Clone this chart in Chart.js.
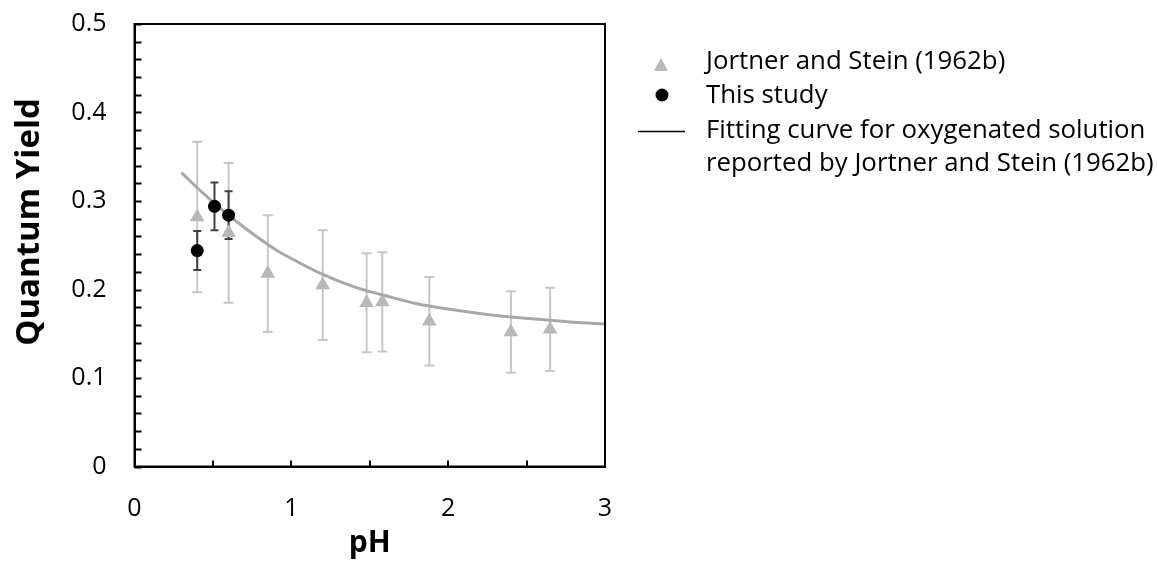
<!DOCTYPE html>
<html>
<head>
<meta charset="utf-8">
<script src="https://cdn.jsdelivr.net/npm/chart.js@4.4.1/dist/chart.umd.min.js"></script>
<style>
  html, body { margin: 0; padding: 0; background: #ffffff; }
  #wrap { position: relative; width: 1158px; height: 563px; }
</style>
</head>
<body>
<div id="wrap"><canvas id="c" width="1158" height="563"></canvas></div>
<script>
// ---- Data ----
const jsPH      = [0.40, 0.60, 0.85, 1.20, 1.48, 1.58, 1.88, 2.40, 2.65];
const jsYield   = [0.282, 0.264, 0.218, 0.205, 0.185, 0.186, 0.164, 0.152, 0.155];
const jsErr     = [0.085, 0.079, 0.066, 0.062, 0.056, 0.056, 0.050, 0.046, 0.047];

const studyPH    = [0.40, 0.51, 0.60];
const studyYield = [0.244, 0.294, 0.284];
const studyErr   = [0.022, 0.027, 0.027];

const fitPH    = [0.30, 0.40, 0.50, 0.60, 0.70, 0.80, 0.90, 1.00, 1.20, 1.40, 1.60, 1.80, 2.00, 2.20, 2.40, 2.60, 2.80, 3.00];
const fitYield = [0.332, 0.315, 0.299, 0.284, 0.270, 0.257, 0.245, 0.235, 0.217, 0.203, 0.193, 0.184, 0.178, 0.173, 0.169, 0.166, 0.163, 0.161];

const xTickLabels = ['0', '1', '2', '3'];
const yTickLabels = ['0', '0.1', '0.2', '0.3', '0.4', '0.5'];

const legendLabels = [
  ['Jortner and Stein (1962b)'],
  ['This study'],
  ['Fitting curve for oxygenated solution', 'reported by Jortner and Stein (1962b)']
];
const yTitle = 'Quantum Yield';
const xTitle = 'pH';

// ---- Styles ----
const FONT = '"Open Sans", "DejaVu Sans", sans-serif';
const GRAY_MARK = '#b8b8b8';
const GRAY_ERR = '#c6c6c6';
const GRAY_FIT = '#a8a8a8';
const DARK_ERR = '#404040';

const toPts = (xs, ys) => xs.map((x, i) => ({ x: x, y: ys[i] }));

const errorBars = {
  id: 'errorBars',
  beforeDatasetsDraw(chart) {
    const ctx = chart.ctx, xs = chart.scales.x, ys = chart.scales.y;
    const draw = (px, py, pe, color, cap) => {
      ctx.save();
      ctx.strokeStyle = color; ctx.lineWidth = 2;
      px.forEach((p, i) => {
        const X = xs.getPixelForValue(p);
        const T = ys.getPixelForValue(py[i] + pe[i]);
        const B = ys.getPixelForValue(py[i] - pe[i]);
        ctx.beginPath();
        ctx.moveTo(X, T); ctx.lineTo(X, B);
        ctx.moveTo(X - cap, T); ctx.lineTo(X + cap, T);
        ctx.moveTo(X - cap, B); ctx.lineTo(X + cap, B);
        ctx.stroke();
      });
      ctx.restore();
    };
    draw(jsPH, jsYield, jsErr, GRAY_ERR, 5);
    draw(studyPH, studyYield, studyErr, DARK_ERR, 4);
  }
};

const frameAndTicks = {
  id: 'frameAndTicks',
  afterDraw(chart) {
    const ctx = chart.ctx, a = chart.chartArea, xs = chart.scales.x, ys = chart.scales.y;
    ctx.save();
    ctx.strokeStyle = '#000'; ctx.lineWidth = 2;
    ctx.strokeRect(a.left, a.top, a.right - a.left, a.bottom - a.top);
    ctx.beginPath();
    for (let v = 0; v <= 0.5001; v += 0.02) {
      const Y = Math.round(ys.getPixelForValue(v)) + 0.5;
      ctx.moveTo(a.left, Y); ctx.lineTo(a.left + 7, Y);
    }
    for (let v = 0; v <= 3.0001; v += 0.5) {
      const X = Math.round(xs.getPixelForValue(v));
      ctx.moveTo(X, a.bottom); ctx.lineTo(X, a.bottom - 6);
    }
    ctx.stroke();
    ctx.restore();

    // y-axis title
    ctx.save();
    ctx.translate(30, 222);
    ctx.rotate(-Math.PI / 2);
    ctx.fillStyle = '#000';
    ctx.font = 'bold 33px ' + FONT;
    ctx.textAlign = 'center'; ctx.textBaseline = 'middle';
    ctx.fillText(yTitle, 0, 0);
    ctx.restore();

    // legend
    ctx.save();
    const tx = 706;
    ctx.font = '25.8px ' + FONT;
    ctx.textAlign = 'left'; ctx.textBaseline = 'alphabetic';
    ctx.fillStyle = GRAY_MARK;
    ctx.beginPath();
    ctx.moveTo(661, 58); ctx.lineTo(668, 71); ctx.lineTo(654, 71); ctx.closePath(); ctx.fill();
    ctx.fillStyle = '#000';
    ctx.beginPath(); ctx.arc(662, 95, 6.5, 0, Math.PI * 2); ctx.fill();
    ctx.strokeStyle = '#000'; ctx.lineWidth = 1.5;
    ctx.beginPath(); ctx.moveTo(638, 131.5); ctx.lineTo(685, 131.5); ctx.stroke();
    ctx.fillText(legendLabels[0][0], tx, 69);
    ctx.fillText(legendLabels[1][0], tx, 103);
    ctx.fillText(legendLabels[2][0], tx, 138);
    ctx.fillText(legendLabels[2][1], tx, 171);
    ctx.restore();
  }
};

new Chart(document.getElementById('c'), {
  type: 'scatter',
  data: {
    datasets: [
      {
        label: 'This study',
        data: toPts(studyPH, studyYield),
        pointStyle: 'circle',
        pointRadius: 6.5,
        backgroundColor: '#000',
        borderColor: '#000',
        borderWidth: 0
      },
      {
        label: 'Fitting curve for oxygenated solution reported by Jortner and Stein (1962b)',
        data: toPts(fitPH, fitYield),
        showLine: true,
        pointRadius: 0,
        borderColor: GRAY_FIT,
        borderWidth: 3,
        cubicInterpolationMode: 'monotone',
        fill: false
      },
      {
        label: 'Jortner and Stein (1962b)',
        data: toPts(jsPH, jsYield),
        pointStyle: 'triangle',
        pointRadius: 8.5,
        backgroundColor: GRAY_MARK,
        borderColor: GRAY_MARK,
        borderWidth: 0
      }
    ]
  },
  options: {
    responsive: false,
    animation: false,
    devicePixelRatio: 1,
    layout: { padding: { top: 24, right: 553, left: 0, bottom: 0 } },
    plugins: { legend: { display: false }, tooltip: { enabled: false } },
    scales: {
      x: {
        type: 'linear', min: 0, max: 3,
        grid: { display: false, drawTicks: false },
        border: { display: true, color: '#000', width: 2 },
        ticks: {
          stepSize: 0.5, autoSkip: false, maxRotation: 0, padding: 27,
          color: '#000', font: { family: FONT, size: 25 },
          callback: (v) => Number.isInteger(v) ? xTickLabels[v] : ''
        },
        title: { display: true, text: xTitle, color: '#000', font: { family: FONT, size: 30, weight: 'bold' }, padding: { top: 0, bottom: 2 } },
        afterFit: (s) => { s.height = 96.5; }
      },
      y: {
        type: 'linear', min: 0, max: 0.5,
        grid: { display: false, drawTicks: false },
        border: { display: true, color: '#000', width: 2 },
        ticks: {
          stepSize: 0.1, padding: 28,
          color: '#000', font: { family: FONT, size: 25 },
          callback: (v) => yTickLabels[Math.round(v * 10)]
        },
        afterFit: (s) => { s.width = 134.5; s.paddingTop = 0; s.paddingBottom = 0; }
      }
    }
  },
  plugins: [errorBars, frameAndTicks]
});
</script>
</body>
</html>
